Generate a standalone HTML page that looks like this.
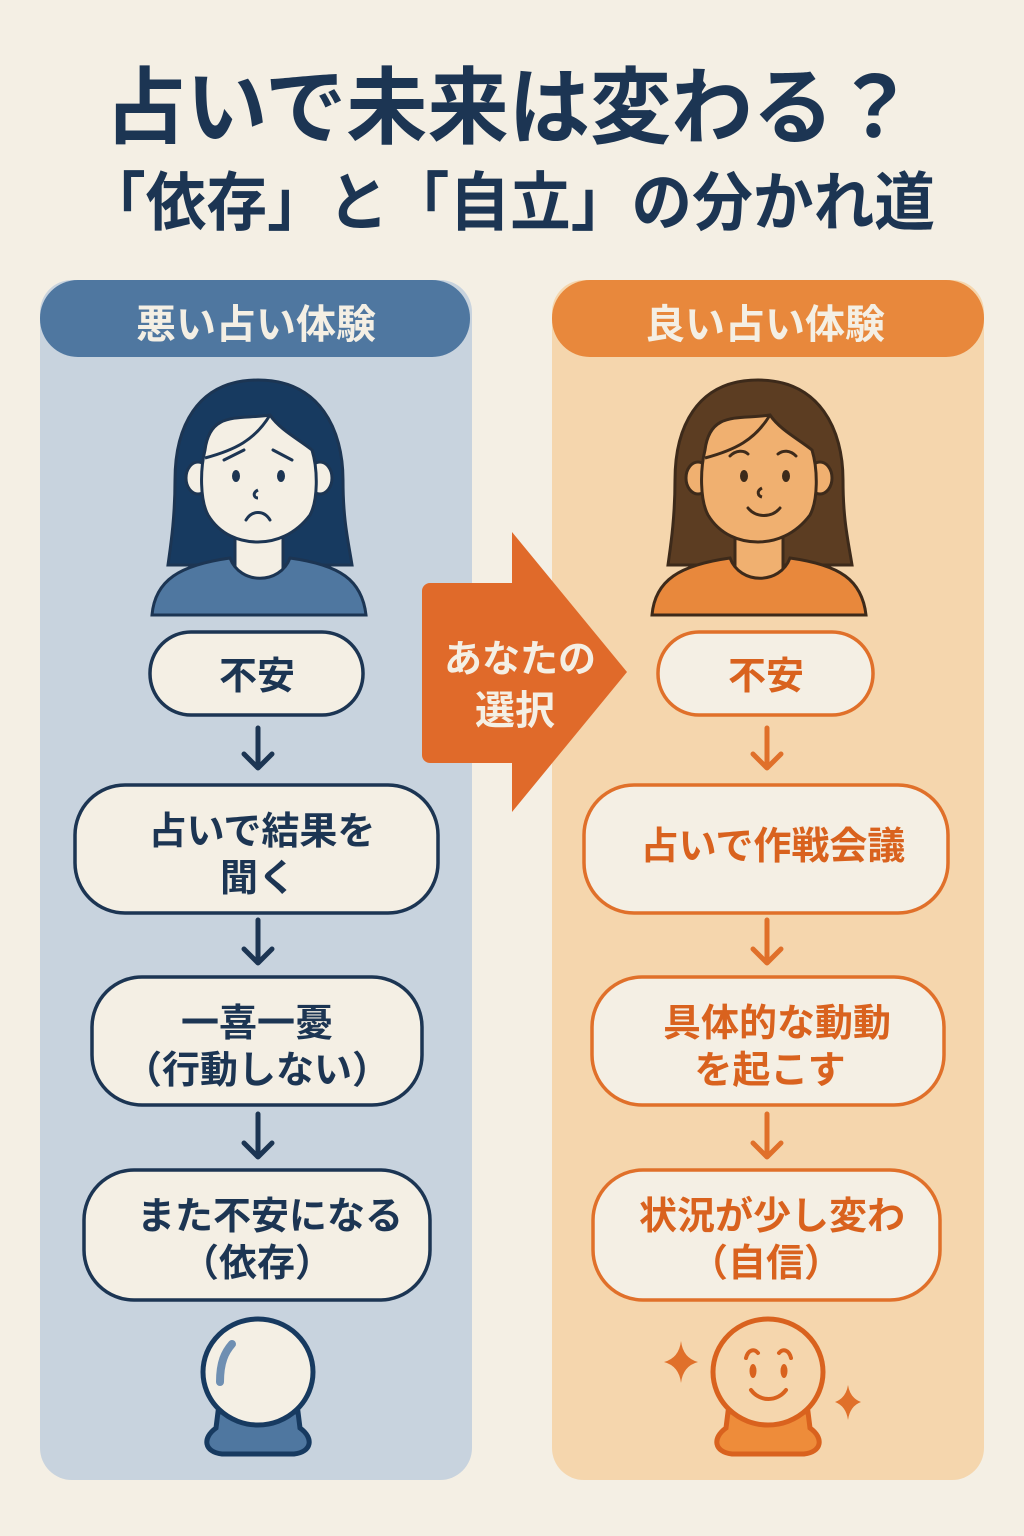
<!DOCTYPE html>
<html><head><meta charset="utf-8"><style>
html,body{margin:0;padding:0;background:#f4efe4;}
svg{display:block;}
text{font-family:"Liberation Sans","Noto Sans CJK JP",sans-serif;font-weight:700;}
</style></head><body>
<svg width="1024" height="1536" viewBox="0 0 1024 1536" xmlns="http://www.w3.org/2000/svg">
<rect width="1024" height="1536" fill="#f4efe4"/>
<text x="510" y="137" text-anchor="middle" font-size="84" fill="#1c3553" textLength="810" lengthAdjust="spacingAndGlyphs">占いで未来は変わる？</text>
<text x="510" y="225" text-anchor="middle" font-size="64" fill="#1c3553" textLength="850" lengthAdjust="spacingAndGlyphs">「依存」と「自立」の分かれ道</text>

<!-- panels -->
<rect x="40" y="280" width="432" height="1200" rx="32" fill="#c8d3de"/>
<rect x="40" y="280" width="430" height="77" rx="38" fill="#4f77a0"/>
<text x="256" y="338" text-anchor="middle" font-size="40" fill="#f4efe4">悪い占い体験</text>
<rect x="552" y="280" width="432" height="1200" rx="32" fill="#f5d6ad"/>
<rect x="552" y="280" width="432" height="77" rx="38" fill="#e8883c"/>
<text x="765" y="338" text-anchor="middle" font-size="40" fill="#f4efe4">良い占い体験</text>

<!-- faces -->
<g transform="translate(140,370)" stroke="#1c3553" stroke-width="3">
<path d="M118 10 C55 10 35 60 35 110 C35 150 30 180 28 195 L212 195 C208 170 203 150 203 110 C203 60 180 10 118 10 Z" fill="#173a60"/>
<rect x="95" y="150" width="48" height="60" fill="#f4efe4"/>
<path d="M12 245 C15 210 40 195 90 188 C100 215 140 215 150 188 C200 195 222 210 226 245 Z" fill="#4f77a0"/>
<ellipse cx="58" cy="108" rx="12" ry="16" fill="#f4efe4"/>
<ellipse cx="180" cy="108" rx="12" ry="16" fill="#f4efe4"/>
<path d="M65 80 C70 40 100 50 130 45 C140 60 160 70 172 80 C178 100 178 130 170 145 C155 165 135 172 118 172 C100 172 80 165 68 145 C60 130 60 100 65 80 Z" fill="#f4efe4"/>
<path d="M130 45 C115 70 95 80 65 88" fill="none"/>
<ellipse cx="96" cy="106" rx="4" ry="6" fill="#1c3553" stroke="none"/>
<ellipse cx="141" cy="106" rx="4" ry="6" fill="#1c3553" stroke="none"/>
<path d="M84 90 L104 80 M133 80 L152 90" fill="none" stroke-linecap="round"/>
<path d="M118 120 C112 123 114 128 118 128" fill="none"/>
<path d="M106 150 C112 140 124 140 130 150" fill="none" stroke-linecap="round"/>
</g>
<g transform="translate(640,370)" stroke="#3d2a1a" stroke-width="3">
<path d="M118 10 C55 10 35 60 35 110 C35 150 30 180 28 195 L212 195 C208 170 203 150 203 110 C203 60 180 10 118 10 Z" fill="#5c3d22"/>
<rect x="95" y="150" width="48" height="60" fill="#f0b070"/>
<path d="M12 245 C15 210 40 195 90 188 C100 215 140 215 150 188 C200 195 222 210 226 245 Z" fill="#e8883c"/>
<ellipse cx="58" cy="108" rx="12" ry="16" fill="#f0b070"/>
<ellipse cx="180" cy="108" rx="12" ry="16" fill="#f0b070"/>
<path d="M65 80 C70 40 100 50 130 45 C140 60 160 70 172 80 C178 100 178 130 170 145 C155 165 135 172 118 172 C100 172 80 165 68 145 C60 130 60 100 65 80 Z" fill="#f0b070"/>
<path d="M130 45 C115 70 95 80 65 88" fill="none"/>
<ellipse cx="104" cy="106" rx="4" ry="6" fill="#3d2a1a" stroke="none"/>
<ellipse cx="146" cy="106" rx="4" ry="6" fill="#3d2a1a" stroke="none"/>
<path d="M90 86 C96 80 104 80 108 84 M138 84 C143 80 150 80 156 86" fill="none" stroke-linecap="round"/>
<path d="M122 118 C116 121 118 126 122 127" fill="none"/>
<path d="M108 138 C116 148 132 148 140 138" fill="none" stroke-linecap="round"/>
</g>

<!-- center arrow -->
<path d="M430 583 H512 V532 L627 672 L512 812 V763 H430 a8 8 0 0 1 -8 -8 V591 a8 8 0 0 1 8 -8 Z" fill="#e06a2a"/>
<text x="520" y="672" text-anchor="middle" font-size="38" fill="#f4efe4">あなたの</text>
<text x="515" y="724" text-anchor="middle" font-size="40" fill="#f4efe4">選択</text>

<!-- left boxes -->
<g fill="#f4efe4" stroke="#1c3553" stroke-width="3.5">
<rect x="150" y="632" width="213" height="83" rx="41"/>
<rect x="75" y="785" width="363" height="128" rx="50"/>
<rect x="92" y="977" width="330" height="128" rx="50"/>
<rect x="84" y="1170" width="346" height="130" rx="50"/>
</g>
<g fill="#1c3553" font-size="38" text-anchor="middle">
<text x="257" y="689">不安</text>
<text x="262" y="844">占いで結果を</text>
<text x="258" y="891">聞く</text>
<text x="257" y="1036">一喜一憂</text>
<text x="257" y="1083">（行動しない）</text>
<text x="270" y="1229">また不安になる</text>
<text x="257" y="1276">（依存）</text>
</g>
<g stroke="#1c3553" stroke-width="5" fill="none" stroke-linecap="round" stroke-linejoin="round">
<path d="M258 728 V768 M244 754 L258 768 L272 754"/>
<path d="M258 920 V963 M244 949 L258 963 L272 949"/>
<path d="M258 1114 V1157 M244 1143 L258 1157 L272 1143"/>
</g>

<!-- right boxes -->
<g fill="#f4efe4" stroke="#e0702a" stroke-width="3.5">
<rect x="658" y="632" width="215" height="83" rx="41"/>
<rect x="584" y="785" width="364" height="128" rx="50"/>
<rect x="592" y="977" width="352" height="128" rx="50"/>
<rect x="593" y="1170" width="347" height="130" rx="50"/>
</g>
<g fill="#d9621e" font-size="38" text-anchor="middle">
<text x="766" y="689">不安</text>
<text x="773" y="859">占いで作戦会議</text>
<text x="777" y="1036">具体的な動動</text>
<text x="770" y="1083">を起こす</text>
<text x="772" y="1229">状況が少し変わ</text>
<text x="766" y="1276">（自信）</text>
</g>
<g stroke="#e0702a" stroke-width="5" fill="none" stroke-linecap="round" stroke-linejoin="round">
<path d="M767 728 V768 M753 754 L767 768 L781 754"/>
<path d="M767 920 V963 M753 949 L767 963 L781 949"/>
<path d="M767 1114 V1157 M753 1143 L767 1157 L781 1143"/>
</g>

<!-- crystal balls -->
<g stroke="#173a60" stroke-width="5">
<path d="M218 1412 H298 L300 1428 C314 1438 312 1452 294 1454 H222 C204 1452 202 1438 216 1428 Z" fill="#4f77a0"/>
<ellipse cx="258" cy="1372" rx="55" ry="53" fill="#f4efe4"/>
</g>
<path d="M220 1382 C220 1362 225 1352 232 1344" stroke="#6f8fb2" stroke-width="8" fill="none" stroke-linecap="round"/>
<g stroke="#d9621e" stroke-width="5">
<path d="M728 1412 H808 L810 1428 C824 1438 822 1452 804 1454 H732 C714 1452 712 1438 726 1428 Z" fill="#ee8c3a"/>
<ellipse cx="768" cy="1372" rx="55" ry="53" fill="#f5d6ad"/>
</g>
<g stroke="#d9621e" stroke-width="4" fill="none" stroke-linecap="round">
<path d="M746 1358 C748 1350 754 1348 758 1353 M779 1353 C783 1348 789 1350 791 1358"/>
<path d="M751 1390 C760 1402 777 1402 786 1390"/>
</g>
<ellipse cx="753" cy="1371" rx="3.5" ry="7" fill="#d9621e"/>
<ellipse cx="784" cy="1371" rx="3.5" ry="7" fill="#d9621e"/>
<path d="M681 1341 Q683 1358 698 1362 Q683 1366 681 1383 Q679 1366 664 1362 Q679 1358 681 1341 Z" fill="#e0702a"/>
<path d="M848 1385 Q850 1398 861 1402 Q850 1406 848 1420 Q846 1406 835 1402 Q846 1398 848 1385 Z" fill="#e0702a"/>
</svg>
</body></html>
